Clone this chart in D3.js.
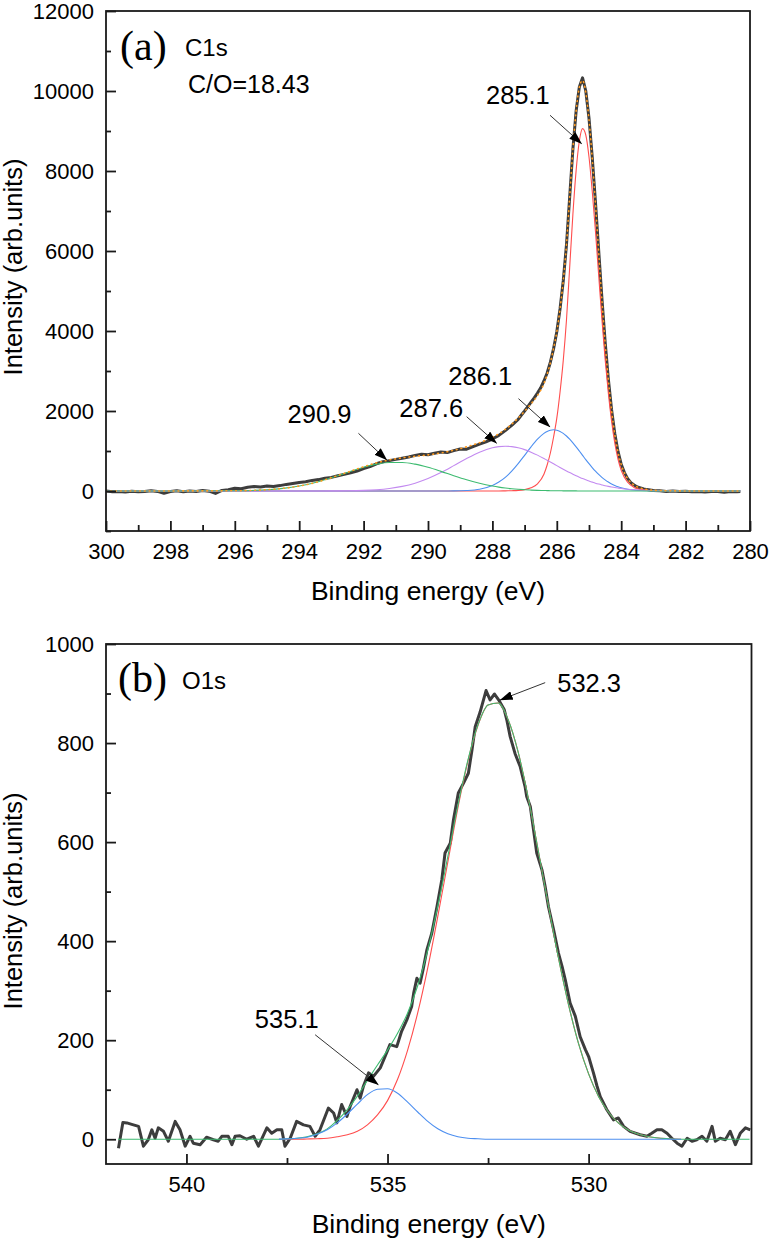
<!DOCTYPE html>
<html><head><meta charset="utf-8">
<script src="https://cdn.jsdelivr.net/npm/d3@7"></script>
<style>body{margin:0;background:#fff}svg{display:block}</style>
</head><body>
<svg id="c" width="771" height="1243"></svg>
<script>
// ---------------- C1s (panel a) ----------------
const c1sExpE = [300,299.8,299.6,299.4,299.2,299,298.8,298.6,298.4,298.2,298,297.8,297.6,297.4,297.2,297,296.8,296.6,296.4,296.2,
296,295.8,295.6,295.4,295.2,295,294.8,294.6,294.4,294.2,294,293.8,293.6,293.4,293.2,293,292.8,292.6,292.4,292.2,
292,291.8,291.6,291.4,291.2,291,290.8,290.6,290.4,290.2,290,289.8,289.6,289.4,289.2,289,288.8,288.6,288.4,288.2,
288,287.8,287.6,287.4,287.2,
287.1,287,286.9,286.8,286.7,286.6,286.5,286.4,286.3,286.2,286.1,286,285.9,285.8,285.7,285.6,285.5,285.4,285.3,285.2,
285.1,285,284.9,284.8,284.7,284.6,284.5,284.4,284.3,284.2,284.1,284,283.9,283.8,283.7,283.6,283.5,283.4,283.3,283.2,283.1,283,
282.8,282.6,282.4,282.2,282,281.8,281.6,281.4,281.2,281,280.8,280.6,280.4,280.3];
const c1sExpI = [0,-20,-10,-25,-5,-20,-15,5,-10,-55,-15,5,-20,0,-10,10,-5,-60,15,30,
70,55,95,110,100,125,115,135,165,190,215,230,265,285,320,340,380,415,455,500,
560,610,680,730,760,790,820,850,890,920,905,945,975,960,1010,1050,1045,1110,1170,1230,
1300,1390,1510,1640,1790,
1900,2000,2110,2220,2330,2450,2580,2750,2950,3220,3560,3980,4550,5250,6150,7350,8550,9500,10100,10330,
10000,9320,8350,7230,6020,4830,3740,2800,2040,1440,990,670,460,310,210,150,100,75,50,35,25,15,
5,-10,0,-15,-5,-20,-10,-25,-15,-10,-30,-15,-20,-15];

const c1sFitE = [300,296,295.5,295,294.5,294,293.5,293,292.5,292,291.6,291.2,290.8,290.4,290,289.6,289.2,288.8,288.4,288,
287.8,287.6,287.4,287.2,287,286.8,286.6,286.4,286.3,286.2,286.1,286,285.9,285.8,285.7,285.6,285.5,285.4,285.3,285.2,
285.1,285,284.9,284.8,284.7,284.6,284.5,284.4,284.3,284.2,284.1,284,283.8,283.6,283.4,283.2,283,282.5,282,281.5,280.3];
const c1sPeak285 = [0,0,0,0,0,0,0,0,0,0,0,0,0,0,0,0,0,0,0,0,
0,4,8,15,35,80,180,420,650,950,1350,1820,2470,3260,4270,5590,6920,8010,8750,9060,
8900,8350,7500,6500,5400,4300,3300,2450,1750,1200,800,520,220,90,40,15,6,2,0,0,0];
const c1sPeak286 = [0,0,0,0,0,0,0,0,0,0,0,0,0,0,0,0,2,12,45,138,
223,341,496,683,892,1104,1295,1441,1490,1520,1530,1520,1490,1441,1375,1295,1204,1104,999,892,
785,683,586,496,414,341,278,223,177,138,106,81,45,24,12,6,2,0,0,0,0];
const c1sPeak287 = [0,0,0,0,0,0,0,2,5,15,32,63,115,196,311,460,634,813,971,1081,
1110,1120,1110,1081,1034,971,897,813,769,725,680,634,589,545,502,460,420,382,346,311,
279,249,222,196,173,152,132,115,100,86,74,63,45,32,22,15,10,4,1,0,0];
const c1sPeak290 = [0,5,14,32,66,124,212,330,464,592,671,714,714,671,592,491,382,280,192,124,
97,75,57,43,32,23,16,12,10,8,7,6,5,4,3,3,2,2,1,1,
1,0,0,0,0,0,0,0,0,0,0,0,0,0,0,0,0,0,0,0,0];
const c1sEnvelope = [0,5,14,32,66,124,212,332,469,607,703,777,829,867,903,951,1018,1105,1208,1343,
1430,1540,1671,1822,1993,2178,2388,2686,2919,3203,3567,3980,4554,5250,6150,7348,8546,9498,10096,10264,
9965,9282,8308,7192,5987,4793,3710,2788,2027,1424,980,664,310,146,74,36,18,6,1,0,0];

const c1sXMajor = [300,298,296,294,292,290,288,286,284,282,280];
const c1sXMinor = [299,297,295,293,291,289,287,285,283,281];
const c1sYMajor = [0,2000,4000,6000,8000,10000,12000];
const c1sYMinor = [-1000,1000,3000,5000,7000,9000,11000];

const c1sLabels = ["285.1","290.9","287.6","286.1"];
const c1sLabelE = [288.20,294.36,290.89,289.37];
const c1sLabelI = [9675,1700,1850,2650];
const c1sArrowFromE = [286.21,292.16,288.80,287.19];
const c1sArrowFromI = [9393,1442,1858,2308];
const c1sArrowToE = [285.23,291.28,287.87,286.21];
const c1sArrowToI = [8683,775,1193,1600];

// ---------------- O1s (panel b) ----------------
const o1sExpE = [541.69,541.58,541.48,541.36,541.19,541.07,540.95,540.86,540.78,540.70,540.57,540.45,540.28,540.16,540.03,
539.91,539.83,539.66,539.50,539.33,539.21,539.12,538.96,538.87,538.79,538.67,538.50,538.33,538.21,
538.00,537.88,537.75,537.63,537.55,537.42,537.26,537.09,536.93,536.80,536.68,536.47,536.34,536.26,536.14,536.01,
535.93,535.76,535.68,535.60,535.47,535.35,535.18,535.06,534.94,534.77,534.65,534.52,534.40,534.35,534.27,534.19,
534.11,534.02,533.90,533.77,533.65,533.57,533.44,533.36,533.24,533.11,532.99,532.90,532.82,532.70,532.55,532.45,
532.34,532.22,532.10,532.03,531.95,531.83,531.70,531.58,531.54,531.45,531.37,531.29,531.16,531.08,531.00,530.87,
530.75,530.66,530.58,530.46,530.33,530.21,530.08,530.00,529.88,529.79,529.71,529.55,529.38,529.26,529.13,528.97,
528.72,528.55,528.43,528.30,528.18,528.05,527.93,527.80,527.68,527.55,527.43,527.31,527.18,527.06,526.93,526.85,
526.73,526.60,526.48,526.35,526.23,526.10,525.98];
const o1sExpI = [-18,34,33,30,26,-14,-1,19,2,23,16,-4,36,19,-14,
6,-8,-11,4,-1,-4,6,6,-11,6,7,0,6,-14,
23,12,19,19,-14,2,36,29,26,6,19,63,53,33,70,46,
66,100,83,107,134,127,144,167,191,187,218,241,268,295,325,315,
345,383,416,470,524,578,598,645,699,719,739,786,833,862,906,887,
899,885,868,845,813,779,752,712,692,672,625,578,544,510,470,423,
376,349,322,275,248,207,181,167,134,107,86,60,39,43,26,16,
9,6,12,19,19,12,2,-8,-14,2,-4,-1,6,-4,26,-4,
2,-1,16,-11,12,23,19];

const o1sFitE = [541.7,539,538,537.7,537.5,537.25,537,536.75,536.5,536.25,536,535.75,535.5,535.25,535,534.75,534.5,534.25,534,533.75,
533.5,533.25,533,532.75,532.5,532.25,532,531.75,531.5,531.25,531,530.75,530.5,530.25,530,529.75,529.5,529.25,529,528.5,
528,527.7,527,526];
const o1sPeak532 = [null,null,null,0,0,0,0.5,1,2,5,9,16,29,49,78,121,180,255,346,450,
560,669,764,836,877,881,847,781,689,582,472,366,272,193,132,86,54,32,18,5,
1,0,null,null];
const o1sPeak535 = [null,null,null,0.3,0.7,2,4,10,19,33,51,71,90,101,102,93,75,55,36,21,
11,5,2,1,0,0,0,0,0,0,0,0,0,0,0,0,0,0,0,0,
0,0,null,null];
const o1sEnvelope = [0,0,0,0,1,2,5,11,21,38,60,87,119,150,180,214,255,310,382,471,
571,674,766,837,877,881,847,781,689,582,472,366,272,193,132,86,54,32,18,5,
1,0,0,0];

const o1sXMajor = [540,535,530];
const o1sXMinor = [537.5,532.5,527.5];
const o1sYMajor = [0,200,400,600,800,1000];
const o1sYMinor = [100,300,500,700,900];

const o1sLabels = ["532.3","535.1"];
const o1sLabelE = [530.78,538.30];
const o1sLabelI = [903,224];
const o1sArrowFromE = [531.08,536.80];
const o1sArrowFromI = [922,211];
const o1sArrowToE = [532.20,535.23];
const o1sArrowToI = [887,110];

// ---------------- drawing ----------------
const SANS = "'Liberation Sans', Arial, Helvetica, sans-serif";
const SERIF = "'Liberation Serif', 'Times New Roman', Times, serif";
const svg = d3.select('#c');
svg.append('rect').attr('width',771).attr('height',1243).attr('fill','#fff');
const defs = svg.append('defs');
defs.append('marker').attr('id','ah').attr('viewBox','0 0 13 9')
  .attr('markerWidth',13).attr('markerHeight',9).attr('refX',12.5).attr('refY',4.5)
  .attr('orient','auto').attr('markerUnits','userSpaceOnUse')
  .append('path').attr('d','M0,0L13,4.5L0,9Z').attr('fill','#000');

function zip(a,b){ return a.map((v,i)=>[v,b[i]]); }

function panel(o){
  const x = d3.scaleLinear().domain(o.xDom).range([o.L,o.R]);
  const y = d3.scaleLinear().domain(o.yDom).range([o.B,o.T]);
  const g = svg.append('g');
  const cid = 'clip'+o.id;
  defs.append('clipPath').attr('id',cid).append('rect')
    .attr('x',o.L).attr('y',o.T).attr('width',o.R-o.L).attr('height',o.B-o.T);
  const plot = g.append('g').attr('clip-path',`url(#${cid})`);

  function styleAxis(sel){
    sel.select('.domain').remove();
    sel.selectAll('.tick line').attr('stroke','#1a1a1a').attr('stroke-width',1.8);
    sel.attr('font-family',SANS).attr('font-size',22).attr('fill','#000');
    sel.selectAll('text').attr('fill','#000');
  }
  g.append('g').attr('transform',`translate(0,${o.B})`)
    .call(d3.axisBottom(x).tickValues(o.xMajor).tickSize(-10).tickPadding(12.5).tickFormat(d3.format('d')))
    .call(styleAxis);
  g.append('g').attr('transform',`translate(0,${o.B})`)
    .call(d3.axisBottom(x).tickValues(o.xMinor).tickSize(-6).tickFormat(''))
    .call(styleAxis);
  g.append('g').attr('transform',`translate(${o.L},0)`)
    .call(d3.axisLeft(y).tickValues(o.yMajor).tickSize(-10).tickPadding(12).tickFormat(d3.format('d')))
    .call(styleAxis);
  g.append('g').attr('transform',`translate(${o.L},0)`)
    .call(d3.axisLeft(y).tickValues(o.yMinor).tickSize(-5).tickFormat(''))
    .call(styleAxis);
  g.append('rect').attr('x',o.L).attr('y',o.T).attr('width',o.R-o.L).attr('height',o.B-o.T)
    .attr('fill','none').attr('stroke','#1a1a1a').attr('stroke-width',1.8);

  // titles
  g.append('text').attr('x',(o.L+o.R)/2).attr('y',o.B+69).attr('text-anchor','middle')
    .attr('font-family',SANS).attr('font-size',26.5).text('Binding energy (eV)');
  g.append('text').attr('transform',`translate(22,${o.yTitleC}) rotate(-90)`).attr('text-anchor','middle')
    .attr('font-family',SANS).attr('font-size',25.5).text('Intensity (arb.units)');
  return {x,y,g,plot};
}

function drawLine(p, xs, ys, color, width, curve, dash){
  const line = d3.line().defined(d=>d[1]!==null && d[1]!==undefined)
    .x(d=>p.x(d[0])).y(d=>p.y(d[1])).curve(curve);
  const path = p.plot.append('path').datum(zip(xs,ys)).attr('d',line)
    .attr('fill','none').attr('stroke',color).attr('stroke-width',width)
    .attr('stroke-linejoin','round');
  if (dash) path.attr('stroke-dasharray',dash).attr('stroke-linecap','round');
  return path;
}

function annotate(p, labels, lE, lI, fE, fI, tE, tI){
  labels.forEach((t,i)=>{
    p.g.append('text').attr('x',p.x(lE[i])).attr('y',p.y(lI[i]))
      .attr('font-family',SANS).attr('font-size',25.5).attr('fill','#000').text(t);
    p.g.append('line').attr('x1',p.x(fE[i])).attr('y1',p.y(fI[i]))
      .attr('x2',p.x(tE[i])).attr('y2',p.y(tI[i]))
      .attr('stroke','#333').attr('stroke-width',1).attr('marker-end','url(#ah)');
  });
}

// panel a
const pa = panel({id:'a', L:106, R:750, T:11, B:531, xDom:[300,280], yDom:[-1000,12000],
  xMajor:c1sXMajor, xMinor:c1sXMinor, yMajor:c1sYMajor, yMinor:c1sYMinor, yTitleC:267});
drawLine(pa, c1sExpE, c1sExpI, '#3d3d3d', 3, d3.curveLinear);
drawLine(pa, c1sFitE, c1sPeak285, '#ff4d4d', 1.1, d3.curveMonotoneX);
drawLine(pa, c1sFitE, c1sPeak286, '#4d8ff0', 1.1, d3.curveMonotoneX);
drawLine(pa, c1sFitE, c1sPeak287, '#c38af0', 1.1, d3.curveMonotoneX);
drawLine(pa, c1sFitE, c1sPeak290, '#3dbb70', 1.1, d3.curveMonotoneX);
drawLine(pa, c1sFitE, c1sEnvelope, '#ff9a1f', 1.6, d3.curveMonotoneX, '0.8,4');
annotate(pa, c1sLabels, c1sLabelE, c1sLabelI, c1sArrowFromE, c1sArrowFromI, c1sArrowToE, c1sArrowToI);
pa.g.append('text').attr('x',120).attr('y',60).attr('font-family',SERIF).attr('font-size',42).text('(a)');
pa.g.append('text').attr('x',185).attr('y',56).attr('font-family',SANS).attr('font-size',24).text('C1s');
pa.g.append('text').attr('x',188).attr('y',93).attr('font-family',SANS).attr('font-size',25).text('C/O=18.43');

// panel b
const pb = panel({id:'b', L:106, R:751.5, T:644, B:1164, xDom:[542,525.95], yDom:[-50,1000],
  xMajor:o1sXMajor, xMinor:o1sXMinor, yMajor:o1sYMajor, yMinor:o1sYMinor, yTitleC:901});
drawLine(pb, o1sExpE, o1sExpI, '#3d3d3d', 3, d3.curveLinear);
drawLine(pb, o1sFitE, o1sPeak532, '#ff4d4d', 1.1, d3.curveMonotoneX);
drawLine(pb, o1sFitE, o1sEnvelope, '#3dbb70', 1.1, d3.curveMonotoneX);
drawLine(pb, o1sFitE, o1sPeak535, '#4d8ff0', 1.1, d3.curveMonotoneX);
annotate(pb, o1sLabels, o1sLabelE, o1sLabelI, o1sArrowFromE, o1sArrowFromI, o1sArrowToE, o1sArrowToI);
pb.g.append('text').attr('x',118).attr('y',692).attr('font-family',SERIF).attr('font-size',42).text('(b)');
pb.g.append('text').attr('x',182).attr('y',689).attr('font-family',SANS).attr('font-size',24).text('O1s');
</script>
</body></html>
